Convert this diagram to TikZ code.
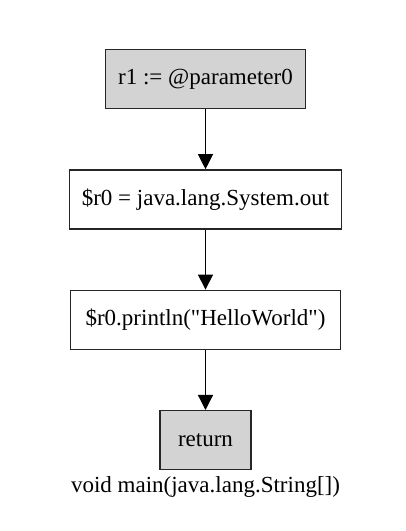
\documentclass[tikz,border=0pt]{standalone}
\usepackage{fontspec}
\setmainfont{Liberation Serif}
\usepackage{xcolor}
\usetikzlibrary{arrows.meta,positioning}

\definecolor{stmtgray}{HTML}{D3D3D3}

\begin{document}
\begin{tikzpicture}[x=1pt, y=1pt, node distance=60pt,
    every node/.style={font=\fontsize{23}{27}\selectfont},
    stmt/.style={draw=black!85, line width=1.4pt, rectangle, minimum height=59pt, inner xsep=12.5pt},
    headtail/.style={stmt, fill=stmtgray},
    flow/.style={line width=1.2pt, -{Triangle[length=15pt, width=15pt]}}]
                \useasboundingbox (0,0) rectangle (405,531);
                \node[headtail] (param) at (205.5,452) {r1 := @parameter0};
                \node[stmt, below=of param] (sysout) {\$r0 = java.lang.System.out};
                \node[stmt, below=of sysout, inner xsep=15pt] (println) {\$r0.println(\textquotedbl HelloWorld\textquotedbl)};
                \node[headtail, below=of println, minimum width=91pt] (ret) {return};
                \node[below=6pt of ret, inner sep=0pt] (sig) {void main(java.lang.String[])};
                \draw[flow] (param) -- (sysout);
                \draw[flow] (sysout) -- (println);
                \draw[flow] (println) -- (ret);
            \end{tikzpicture}
\end{document}
